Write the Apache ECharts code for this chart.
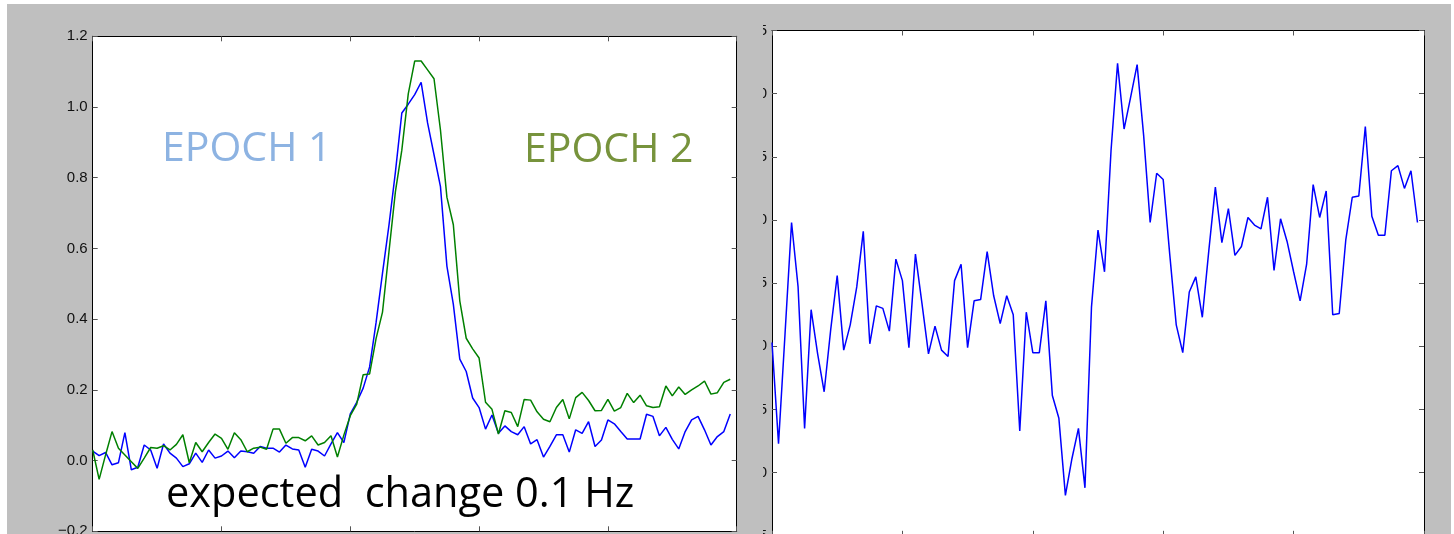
<!DOCTYPE html>
<html>
<head>
<meta charset="utf-8">
<script src="https://cdn.jsdelivr.net/npm/echarts@6/dist/echarts.min.js"></script>
<style>
  html, body { margin: 0; padding: 0; background: #ffffff; overflow: hidden; }
  #bg { position: absolute; left: 7px; top: 4px; width: 1444px; height: 530px; background: #bfbfbf; }
  #left { position: absolute; left: 0; top: 0; width: 740px; height: 534px; }
  #right { position: absolute; left: 763px; top: 0; width: 691px; height: 534px; }
</style>
</head>
<body>
<div id="bg"></div>
<div id="left"></div>
<div id="right"></div>
<script>
// ---- data ----
const sampleIndex = Array.from({length: 100}, (_, i) => i);

const epoch1 = [
  0.027, 0.014, 0.023, -0.012, -0.006, 0.079, -0.026, -0.019, 0.044, 0.030,
  -0.022, 0.047, 0.021, 0.007, -0.017, -0.009, 0.021, -0.005, 0.030, 0.007,
  0.013, 0.027, 0.008, 0.027, 0.025, 0.021, 0.040, 0.035, 0.035, 0.024,
  0.044, 0.033, 0.030, -0.019, 0.032, 0.027, 0.013, 0.047, 0.079, 0.051,
  0.132, 0.165, 0.205, 0.265, 0.390, 0.530, 0.665, 0.815, 0.983, 1.008,
  1.035, 1.070, 0.955, 0.865, 0.775, 0.550, 0.442, 0.287, 0.252, 0.177,
  0.150, 0.089, 0.129, 0.077, 0.098, 0.082, 0.073, 0.096, 0.047, 0.059,
  0.010, 0.040, 0.073, 0.073, 0.024, 0.087, 0.077, 0.110, 0.040, 0.058,
  0.115, 0.104, 0.082, 0.061, 0.061, 0.061, 0.131, 0.125, 0.070, 0.094,
  0.060, 0.033, 0.082, 0.115, 0.125, 0.087, 0.044, 0.068, 0.082, 0.132
];

const epoch2 = [
  0.030, -0.053, 0.016, 0.082, 0.035, 0.016, -0.003, -0.022, 0.007, 0.037,
  0.035, 0.042, 0.030, 0.046, 0.073, -0.006, 0.051, 0.025, 0.051, 0.075,
  0.063, 0.032, 0.079, 0.059, 0.025, 0.035, 0.038, 0.032, 0.089, 0.089,
  0.049, 0.065, 0.065, 0.056, 0.070, 0.044, 0.051, 0.070, 0.010, 0.072,
  0.127, 0.160, 0.243, 0.245, 0.345, 0.420, 0.590, 0.760, 0.878, 1.037,
  1.130, 1.130, 1.105, 1.080, 0.935, 0.745, 0.667, 0.452, 0.346, 0.316,
  0.290, 0.165, 0.145, 0.075, 0.141, 0.136, 0.096, 0.173, 0.171, 0.138,
  0.117, 0.110, 0.150, 0.173, 0.118, 0.178, 0.193, 0.170, 0.141, 0.142,
  0.173, 0.140, 0.150, 0.190, 0.164, 0.185, 0.155, 0.150, 0.152, 0.211,
  0.183, 0.208, 0.187, 0.200, 0.211, 0.225, 0.188, 0.192, 0.221, 0.230
];

const difference = [
  0.003, -0.077, 0.010, 0.098, 0.047, -0.065, 0.029, -0.006, -0.036, 0.013,
  0.056, -0.003, 0.017, 0.047, 0.091, 0.002, 0.032, 0.030, 0.012, 0.069,
  0.052, -0.001, 0.073, 0.034, -0.006, 0.016, -0.003, -0.008, 0.052, 0.065,
  -0.001, 0.036, 0.037, 0.075, 0.040, 0.018, 0.040, 0.025, -0.067, 0.027,
  -0.005, -0.005, 0.036, -0.039, -0.057, -0.118, -0.089, -0.065, -0.112, 0.031,
  0.092, 0.059, 0.155, 0.224, 0.172, 0.197, 0.223, 0.167, 0.098, 0.137,
  0.132, 0.073, 0.017, -0.005, 0.043, 0.055, 0.023, 0.076, 0.126, 0.082,
  0.109, 0.072, 0.079, 0.102, 0.096, 0.093, 0.118, 0.060, 0.101, 0.083,
  0.059, 0.036, 0.065, 0.128, 0.102, 0.123, 0.025, 0.026, 0.084, 0.118,
  0.119, 0.174, 0.103, 0.088, 0.088, 0.139, 0.143, 0.125, 0.139, 0.098
];

const leftYTicks = { min: -0.2, max: 1.2, step: 0.2 };
const rightYTicks = { min: -0.15, max: 0.25, step: 0.05 };
const xTicks = { min: 0, max: 100, step: 20 };

const annotations = {
  epoch1: 'EPOCH 1',
  epoch2: 'EPOCH 2',
  note: 'expected  change 0.1 Hz'
};

// ---- helpers ----
const fmt = (d) => (v) => {
  const s = Math.abs(v).toFixed(d);
  return (v < -1e-9 ? '\u2212' : '') + s;
};

const spine = { show: true, onZero: false, lineStyle: { color: '#000', width: 1 } };
const ticks = { show: true, inside: true, length: 5, lineStyle: { color: '#555', width: 1 } };

function xAx(pos) {
  return {
    type: 'value', position: pos,
    min: xTicks.min, max: xTicks.max, interval: xTicks.step,
    axisLine: spine, axisTick: ticks, axisLabel: { show: false },
    splitLine: { show: false }
  };
}
function yAx(pos, t, dec, showLabel) {
  return {
    type: 'value', position: pos,
    min: t.min, max: t.max, interval: t.step,
    axisLine: spine, axisTick: ticks,
    axisLabel: {
      show: showLabel, margin: 5, color: '#111',
      fontFamily: 'Liberation Sans', fontSize: 15,
      formatter: fmt(dec)
    },
    splitLine: { show: false }
  };
}
function lineSeries(name, values, color) {
  return {
    name: name, type: 'line',
    data: sampleIndex.map((i) => [i, values[i]]),
    showSymbol: false, symbol: 'none',
    lineStyle: { color: color, width: 1.5 }, itemStyle: { color: color }
  };
}

// ---- left panel (EPOCH 1 / EPOCH 2) ----
const leftChart = echarts.init(document.getElementById('left'), null, { renderer: 'canvas' });
leftChart.setOption({
  animation: false,
  backgroundColor: 'transparent',
  grid: { left: 92.7, top: 36.3, width: 644, height: 495, outerBoundsMode: 'none', containLabel: false,
          show: true, backgroundColor: '#fff', borderWidth: 0 },
  xAxis: [xAx('bottom'), xAx('top')],
  yAxis: [yAx('left', leftYTicks, 1, true), yAx('right', leftYTicks, 1, false)],
  series: [
    lineSeries('EPOCH 1', epoch1, '#0000ff'),
    lineSeries('EPOCH 2', epoch2, '#008000')
  ],
  graphic: {
    elements: [
      { type: 'text', left: 162, top: 129, z: 100,
        style: { text: annotations.epoch1, fill: '#8db3e2', font: '41px "Open Sans"' } },
      { type: 'text', left: 524, top: 130, z: 100,
        style: { text: annotations.epoch2, fill: '#77933c', font: '41px "Open Sans"' } },
      { type: 'text', left: 166, top: 474, z: 100,
        style: { text: annotations.note, fill: '#000000', font: '41.5px "Open Sans"' } }
    ]
  }
});

// ---- right panel (difference); its tick labels are clipped at the container edge ----
const rightChart = echarts.init(document.getElementById('right'), null, { renderer: 'canvas' });
rightChart.setOption({
  animation: false,
  backgroundColor: 'transparent',
  grid: { left: 9, top: 30.5, width: 652, height: 505.3, outerBoundsMode: 'none', containLabel: false,
          show: true, backgroundColor: '#fff', borderWidth: 0 },
  xAxis: [xAx('bottom'), xAx('top')],
  yAxis: [yAx('left', rightYTicks, 2, true), yAx('right', rightYTicks, 2, false)],
  series: [lineSeries('difference', difference, '#0000ff')]
});
</script>
</body>
</html>
